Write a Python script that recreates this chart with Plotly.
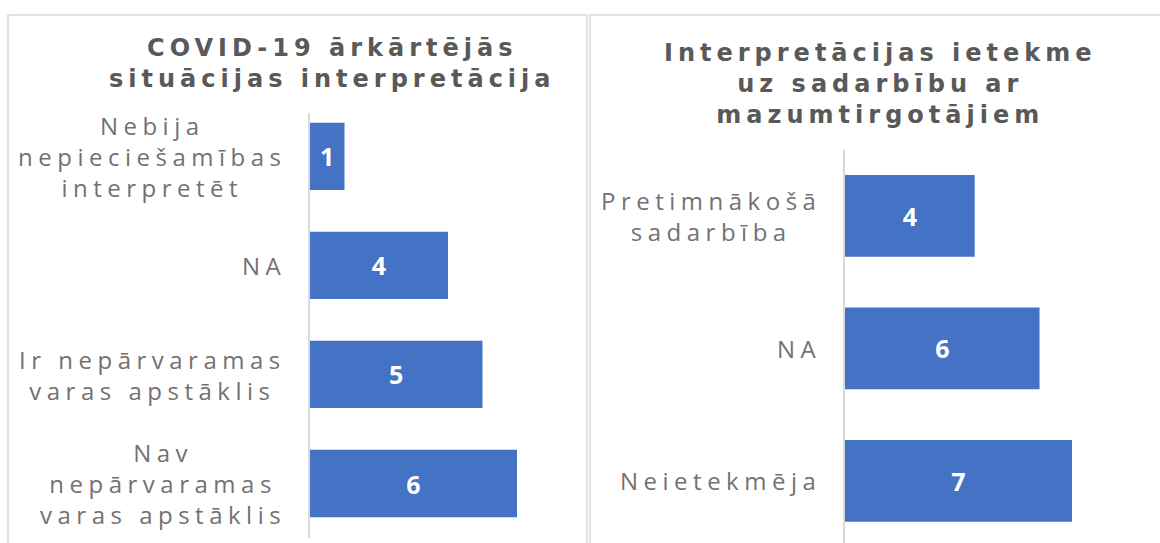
import plotly.graph_objects as go

# ---------------- data ----------------
left_title = "COVID-19 ārkārtējās<br>situācijas interpretācija"
left_categories = ["Nebija nepieciešamības interpretēt", "NA",
                   "Ir nepārvaramas varas apstāklis", "Nav nepārvaramas varas apstāklis"]
left_labels = ["Nebija<br>nepieciešamības<br>interpretēt", "NA",
               "Ir nepārvaramas<br>varas apstāklis", "Nav<br>nepārvaramas<br>varas apstāklis"]
left_values = [1, 4, 5, 6]

right_title = "Interpretācijas ietekme<br>uz sadarbību ar<br>mazumtirgotājiem"
right_categories = ["Pretimnākošā sadarbība", "NA", "Neietekmēja"]
right_labels = ["Pretimnākošā<br>sadarbība", "NA", "Neietekmēja"]
right_values = [4, 6, 7]

# ---------------- style ----------------
W, H = 1160, 543
BAR = "#4472C4"
GRID = "#D9D9D9"
TITLE_C = "#595959"
LABEL_C = "#757171"
FONT = "Open Sans"
TITLE_FONT = "DejaVu Sans"


def px_x(v):
    return v / W


def px_y(v):
    return 1 - v / H


def spaced(text, px):
    return "<br>".join(
        f'<span style="letter-spacing:{px}px">{line}</span>' for line in text.split("<br>")
    )


fig = go.Figure()

fig.add_trace(go.Bar(
    y=left_categories, x=left_values, orientation="h",
    marker=dict(color=BAR, line=dict(width=0)),
    text=[str(v) for v in left_values], textposition="inside",
    insidetextanchor="middle", textangle=0,
    textfont=dict(family=FONT, size=25, color="white", weight="bold"),
    xaxis="x", yaxis="y", hoverinfo="skip", showlegend=False,
))
fig.add_trace(go.Bar(
    y=right_categories, x=right_values, orientation="h",
    marker=dict(color=BAR, line=dict(width=0)),
    text=[str(v) for v in right_values], textposition="inside",
    insidetextanchor="middle", textangle=0,
    textfont=dict(family=FONT, size=25, color="white", weight="bold"),
    xaxis="x2", yaxis="y2", hoverinfo="skip", showlegend=False,
))

axis_common_x = dict(range=[0, 8], showgrid=False, zeroline=False,
                     showticklabels=False, showline=False, ticks="", fixedrange=True)
axis_common_y = dict(type="category", showgrid=False, zeroline=False,
                     showticklabels=False, showline=True, linecolor=GRID,
                     linewidth=1.5, ticks="", fixedrange=True)

annotations = []
# titles
annotations.append(dict(text=spaced(left_title, 5), xref="paper", yref="paper",
                        x=px_x(332), y=px_y(63), xanchor="center", yanchor="middle",
                        align="center", showarrow=False,
                        font=dict(family=TITLE_FONT, size=24, color=TITLE_C, weight="bold")))
annotations.append(dict(text=spaced(right_title, 5), xref="paper", yref="paper",
                        x=px_x(880), y=px_y(84), xanchor="center", yanchor="middle",
                        align="center", showarrow=False,
                        font=dict(family=TITLE_FONT, size=24, color=TITLE_C, weight="bold")))
# category labels
for cat, lab in zip(left_categories, left_labels):
    annotations.append(dict(text=spaced(lab, 5.5), xref="x domain", yref="y", x=0, y=cat,
                            xanchor="right", yanchor="middle", align="center",
                            xshift=-22.5, showarrow=False,
                            font=dict(family=FONT, size=24, color=LABEL_C)))
for cat, lab in zip(right_categories, right_labels):
    annotations.append(dict(text=spaced(lab, 5.5), xref="x2 domain", yref="y2", x=0, y=cat,
                            xanchor="right", yanchor="middle", align="center",
                            xshift=-22.5, showarrow=False,
                            font=dict(family=FONT, size=24, color=LABEL_C)))

shapes = [
    dict(type="rect", xref="paper", yref="paper",
         x0=px_x(8), x1=px_x(587), y0=px_y(15), y1=px_y(570),
         line=dict(color=GRID, width=1.5), fillcolor="rgba(0,0,0,0)", layer="below"),
    dict(type="rect", xref="paper", yref="paper",
         x0=px_x(590), x1=px_x(1175), y0=px_y(15), y1=px_y(570),
         line=dict(color=GRID, width=1.5), fillcolor="rgba(0,0,0,0)", layer="below"),
]

fig.update_layout(
    width=W, height=H,
    margin=dict(l=0, r=0, t=0, b=0),
    paper_bgcolor="white", plot_bgcolor="rgba(0,0,0,0)",
    bargap=0.383,
    xaxis=dict(domain=[px_x(310), px_x(586)], anchor="y", **axis_common_x),
    yaxis=dict(domain=[px_y(538), px_y(113)], anchor="x",
               range=[3.5, -0.399], **axis_common_y),
    xaxis2=dict(domain=[px_x(845), px_x(1104.4)], anchor="y2", **axis_common_x),
    yaxis2=dict(domain=[0, px_y(150)], anchor="x2",
                range=[2.468, -0.498], **axis_common_y),
    annotations=annotations,
    shapes=shapes,
    font=dict(family=FONT),
)

fig.write_html("out.html", config={"displayModeBar": False})
